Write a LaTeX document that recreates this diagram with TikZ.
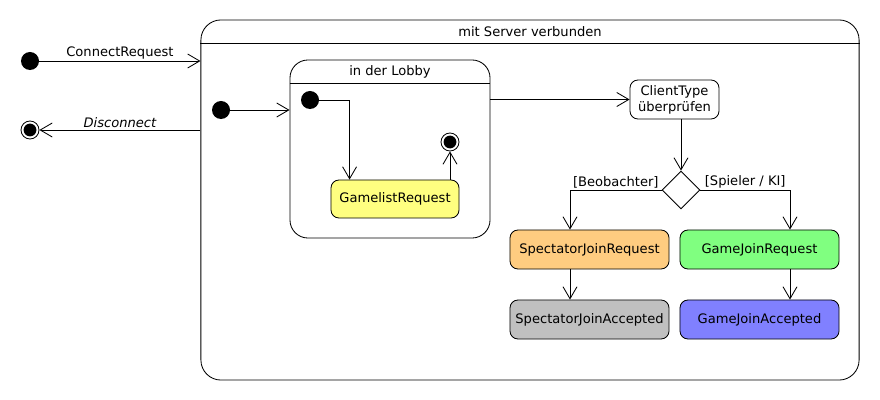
\documentclass[tikz,border=0pt]{standalone}
\usepackage{fontspec}
\setmainfont{DejaVu Sans}
\usetikzlibrary{arrows.meta, shapes.geometric, calc}
\definecolor{requestyellow}{RGB}{255,255,128}
\definecolor{spectatororange}{RGB}{255,204,128}
\definecolor{spectatorgrey}{RGB}{192,192,192}
\definecolor{joingreen}{RGB}{128,255,128}
\definecolor{joinblue}{RGB}{128,128,255}
\begin{document}
\begin{tikzpicture}[x=0.025cm, y=-0.025cm, >={Straight Barb[length=3mm, width=3.5mm]}, line width=0.6pt,
    font=\fontsize{9.3}{11.4}\selectfont,
    initstate/.style={circle, fill=black, minimum size=0.45cm, inner sep=0pt},
    finalstate/.style={circle, draw, minimum size=0.45cm, inner sep=0pt,
        path picture={\fill (path picture bounding box.center) circle (0.16cm);}},
    superstate/.style={draw, rounded corners=0.5cm},
    activity/.style={draw, rounded corners=0.2cm, minimum width=3.975cm, minimum height=0.975cm, inner sep=1pt},
    decision/.style={draw, diamond, minimum width=0.95cm, minimum height=0.95cm, inner sep=0pt},
    edgelabel/.style={above, inner sep=1.2pt}]
    \useasboundingbox (0, 0) rectangle (880, 400);

    % Nodes
    \node[initstate] at (30, 61) (start) {};
    \node[finalstate] at (30, 130) (stop) {};

    \node[superstate, minimum width=16.45cm, minimum height=9cm] at (530, 200) (server) {};
    \coordinate (serverhead) at (0, 43);
    \draw (server.west |- serverhead) -- (server.east |- serverhead);
    \node at (530, 32) (servertitle) {mit Server verbunden};
    \node[initstate] at (221, 110) (serverstart) {};

    \node[superstate, rounded corners=0.45cm, minimum width=5cm, minimum height=4.45cm] at (390, 149) (lobby) {};
    \coordinate (lobbyhead) at (0, 83);
    \draw (lobby.west |- lobbyhead) -- (lobby.east |- lobbyhead);
    \node at (390, 72) (lobbytitle) {in der Lobby};
    \node[initstate] at (310, 100) (lobbystart) {};
    \node[finalstate] at (450, 142) (lobbystop) {};
    \node[activity, fill=requestyellow, minimum width=3.2cm, minimum height=0.95cm] at (395, 199) (gamelist) {GamelistRequest};

    \node[draw, rounded corners=0.2cm, align=center, inner sep=1pt, minimum width=2.225cm, minimum height=0.975cm] at (674.5, 99.5) (clienttype) {ClientType\\überprüfen};
    \node[decision] at (681, 190) (check) {};

    \node[activity, fill=spectatororange] at (589.5, 249.5) (spectreq) {SpectatorJoinRequest};
    \node[activity, fill=joingreen] at (759.5, 249.5) (gamereq) {GameJoinRequest};
    \node[activity, fill=spectatorgrey] at (589.5, 319.5) (spectacc) {SpectatorJoinAccepted};
    \node[activity, fill=joinblue] at (759.5, 319.5) (gameacc) {GameJoinAccepted};

    % Edges
    \draw[->] (start) -- (start -| server.west)
        node[midway, edgelabel] {ConnectRequest};
    \draw[->] (stop -| server.west) -- (stop)
        node[midway, edgelabel] {\itshape Disconnect};
    \draw[->] (serverstart) -- (serverstart -| lobby.west);

    \draw[->] (lobbystart) -| ($(gamelist.north west)+(19, 0)$);
    \draw[->] (gamelist.north -| lobbystop) -- (lobbystop);

    \draw[->] (lobby.east |- clienttype) -- (clienttype);
    \draw[->] (clienttype.south -| check) -- (check);

    \draw[->] (check.west) -| ($(spectreq.north)+(-19.5, 0)$)
        node[pos=0.25, edgelabel] {[Beobachter]};
    \draw[->] (check.east) -| ($(gamereq.north)+(30.5, 0)$)
        node[pos=0.25, edgelabel] {[Spieler / KI]};

    \draw[->] ($(spectreq.south)+(-19.5, 0)$) -- ($(spectacc.north)+(-19.5, 0)$);
    \draw[->] ($(gamereq.south)+(30.5, 0)$) -- ($(gameacc.north)+(30.5, 0)$);
\end{tikzpicture}
\end{document}
